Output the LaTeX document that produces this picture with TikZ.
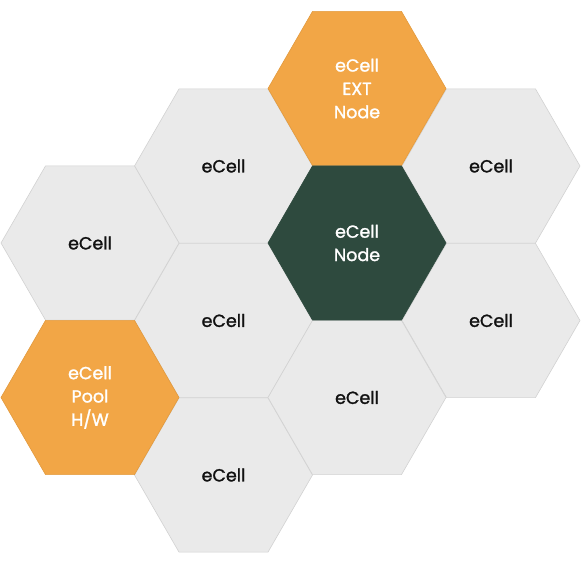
\documentclass[tikz,border=0pt]{standalone}
\usepackage{fontspec}
\setmainfont{Poppins}
\newfontfamily\cellfont{Poppins}[FakeBold=1.4]
\usetikzlibrary{shapes.geometric}
\definecolor{cellgrey}{HTML}{EAEAEA}
\definecolor{cellline}{HTML}{D2D2D2}
\definecolor{cellorange}{HTML}{F2A646}
\definecolor{orangeline}{HTML}{E29A3E}
\definecolor{celldark}{HTML}{2E4A3E}
\definecolor{txtdark}{HTML}{111111}
\tikzset{
  hexcell/.style={regular polygon, regular polygon sides=6, minimum size=178pt,
    inner sep=0pt, outer sep=0pt, line width=0.6pt, align=center,
    font=\cellfont\fontsize{17.5}{23.3}\selectfont},
  greycell/.style={hexcell, fill=cellgrey, draw=cellline, text=txtdark},
  orangecell/.style={hexcell, fill=cellorange, draw=orangeline, text=white},
  darkcell/.style={hexcell, fill=celldark, draw=celldark, text=white},
}
\begin{document}
\begin{tikzpicture}[x=1pt,y=-1pt]
\useasboundingbox (0,0) rectangle (581,565);
\node[greycell] (c1a) at (223.5,166) {eCell};
\node[greycell] (c1b) at (223.5,320.5) {eCell};
\node[greycell] (c1c) at (223.5,475) {eCell};
\node[greycell] (c0a) at (90,243) {eCell};
\node[orangecell] (c0b) at (90,397.5) {eCell\\Pool\\H/W};
\node[greycell] (c3a) at (491,166) {eCell};
\node[greycell] (c3b) at (491,320.5) {eCell};
\node[greycell] (c2c) at (357,397.5) {eCell};
\node[orangecell] (c2a) at (357,88.5) {eCell\\EXT\\Node};
\node[darkcell] (c2b) at (357,243) {eCell\\Node};
\end{tikzpicture}
\end{document}
